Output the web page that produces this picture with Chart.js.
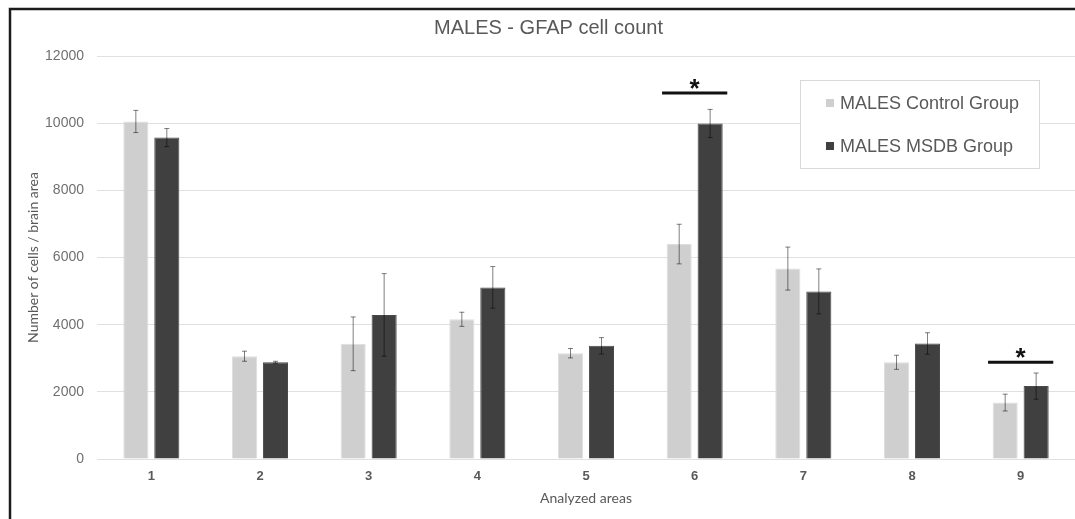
<!DOCTYPE html>
<html>
<head>
<meta charset="utf-8">
<script src="https://cdn.jsdelivr.net/npm/chart.js@4.4.1/dist/chart.umd.min.js"></script>
<style>
  html, body { margin: 0; padding: 0; background: #ffffff; }
  #wrap { position: relative; width: 1075px; height: 519px; }
</style>
</head>
<body>
<div id="wrap"><canvas id="c"></canvas></div>
<script>
// ---- Data ----
const categories = ['1', '2', '3', '4', '5', '6', '7', '8', '9'];
const controlMeans = [10050, 3060, 3430, 4160, 3150, 6400, 5670, 2880, 1680];
const controlErr   = [330, 150, 800, 210, 140, 590, 640, 210, 250];
const msdbMeans    = [9570, 2880, 4290, 5110, 3370, 9990, 4990, 3440, 2170];
const msdbErr      = [270, 30, 1230, 620, 245, 420, 670, 320, 390];
const sigCategories = ['6', '9'];
const sigLineValues = [10900, 2880];
const seriesLabels = ['MALES Control Group', 'MALES MSDB Group'];
const chartTitle = 'MALES - GFAP cell count';
const yTitle = 'Number of cells / brain area';
const xTitle = 'Analyzed areas';

const textGrey = '#595959';

const errorBarPlugin = {
  id: 'errorBars',
  afterDatasetsDraw(chart) {
    const ctx = chart.ctx;
    const y = chart.scales.y;
    ctx.save();
    chart.data.datasets.forEach((ds, di) => {
      const meta = chart.getDatasetMeta(di);
      meta.data.forEach((bar, i) => {
        const v = ds.data[i], e = ds.errors[i];
        const top = y.getPixelForValue(v + e);
        const bot = y.getPixelForValue(v - e);
        ctx.strokeStyle = 'rgba(0,0,0,0.5)';
        ctx.lineWidth = 1;
        ctx.beginPath();
        ctx.moveTo(bar.x, top); ctx.lineTo(bar.x, bot);
        ctx.moveTo(bar.x - 2.5, top); ctx.lineTo(bar.x + 2.5, top);
        ctx.moveTo(bar.x - 2.5, bot); ctx.lineTo(bar.x + 2.5, bot);
        ctx.stroke();
      });
    });
    ctx.restore();
  }
};

const sigPlugin = {
  id: 'significance',
  afterDatasetsDraw(chart) {
    const ctx = chart.ctx;
    const xs = chart.scales.x, ys = chart.scales.y;
    const catW = (xs.right - xs.left) / categories.length;
    ctx.save();
    sigCategories.forEach((cat, k) => {
      const cx = xs.getPixelForValue(categories.indexOf(cat));
      const ly = ys.getPixelForValue(sigLineValues[k]);
      const hw = catW * 0.3;
      ctx.strokeStyle = '#111111';
      ctx.lineWidth = 3;
      ctx.beginPath();
      ctx.moveTo(cx - hw, ly); ctx.lineTo(cx + hw, ly);
      ctx.stroke();
      ctx.fillStyle = '#111111';
      ctx.font = 'bold 26px "Liberation Sans", Arial, sans-serif';
      ctx.textAlign = 'center';
      ctx.textBaseline = 'alphabetic';
      ctx.fillText('*', cx, ly + 4);
    });
    ctx.restore();
  }
};

const legendPlugin = {
  id: 'boxLegend',
  afterDraw(chart) {
    const ctx = chart.ctx;
    ctx.save();
    const bx = 800.5, by = 80.5, bw = 239, bh = 88;
    ctx.fillStyle = '#ffffff';
    ctx.fillRect(bx, by, bw, bh);
    ctx.strokeStyle = '#d9d9d9';
    ctx.lineWidth = 1;
    ctx.strokeRect(bx, by, bw, bh);
    const rows = [103, 146];
    chart.data.datasets.forEach((ds, i) => {
      ctx.fillStyle = ds.backgroundColor;
      ctx.fillRect(826, rows[i] - 4, 8, 8);
      ctx.fillStyle = textGrey;
      ctx.font = '18px "Liberation Sans", Arial, sans-serif';
      ctx.textAlign = 'left';
      ctx.textBaseline = 'middle';
      ctx.fillText(ds.label, 840, rows[i] + 1);
    });
    ctx.restore();
  }
};

const framePlugin = {
  id: 'frame',
  afterDraw(chart) {
    const ctx = chart.ctx;
    ctx.save();
    ctx.strokeStyle = '#1c1c1c';
    ctx.lineWidth = 2.5;
    ctx.beginPath();
    ctx.moveTo(10, chart.height);
    ctx.lineTo(10, 9);
    ctx.lineTo(chart.width, 9);
    ctx.stroke();
    ctx.restore();
  }
};

new Chart(document.getElementById('c'), {
  type: 'bar',
  data: {
    labels: categories,
    datasets: [
      {
        label: seriesLabels[0],
        data: controlMeans,
        errors: controlErr,
        backgroundColor: '#d0cfd0',
        borderColor: '#dedede',
        borderWidth: 1,
        categoryPercentage: 0.57,
        barPercentage: 0.81
      },
      {
        label: seriesLabels[1],
        data: msdbMeans,
        errors: msdbErr,
        backgroundColor: '#404040',
        borderColor: '#4a4a4a',
        borderWidth: 1,
        categoryPercentage: 0.57,
        barPercentage: 0.81
      }
    ]
  },
  options: {
    responsive: true,
    maintainAspectRatio: false,
    devicePixelRatio: 1,
    animation: false,
    layout: { padding: { left: 22, top: 0, right: 0, bottom: 0 } },
    plugins: {
      legend: { display: false },
      tooltip: { enabled: false },
      title: {
        display: true,
        text: chartTitle,
        color: textGrey,
        font: { family: '"Liberation Sans", Arial, sans-serif', size: 20, weight: 'normal', lineHeight: 1.2 },
        padding: { top: 16, bottom: 16 }
      }
    },
    scales: {
      x: {
        grid: { display: false, drawTicks: false },
        border: { display: false },
        ticks: {
          color: textGrey,
          padding: 10,
          font: { family: '"Liberation Sans", Arial, sans-serif', size: 13, weight: 'bold' }
        },
        title: {
          display: true,
          text: xTitle,
          color: textGrey,
          font: { family: 'Lato, sans-serif', size: 14 },
          padding: { top: 0, bottom: 12 }
        },
        afterFit(scale) { scale.width; scale.height = 60; }
      },
      y: {
        min: 0,
        max: 12000,
        grid: { color: '#e0e0e0', lineWidth: 1, drawTicks: false },
        border: { display: false },
        ticks: {
          stepSize: 2000,
          color: '#707070',
          padding: 13,
          font: { family: '"Liberation Sans", Arial, sans-serif', size: 14 },
          callback: (value) => String(value)
        },
        title: {
          display: true,
          text: yTitle,
          color: textGrey,
          font: { family: 'Lato, sans-serif', size: 14 },
          padding: { top: 3, bottom: 0 }
        },
        afterFit(scale) { scale.width = 75; }
      }
    }
  },
  plugins: [errorBarPlugin, sigPlugin, legendPlugin, framePlugin]
});
</script>
</body>
</html>
